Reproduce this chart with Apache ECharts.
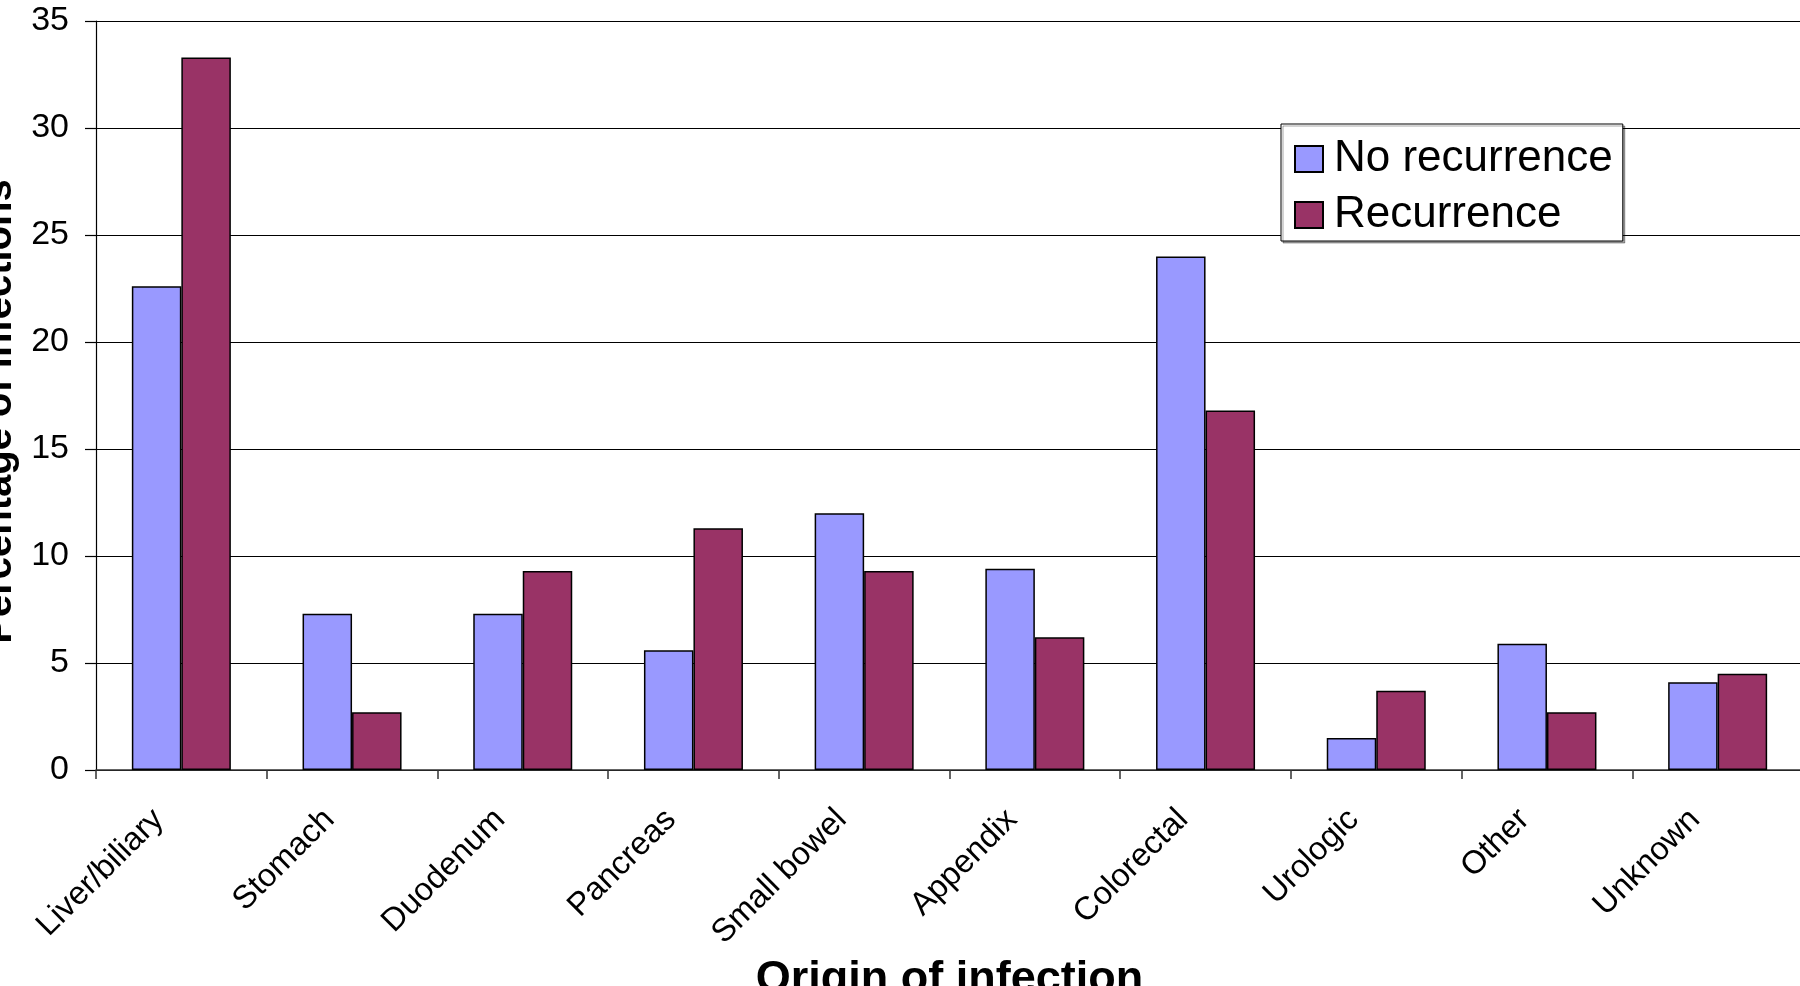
<!DOCTYPE html>
<html>
<head>
<meta charset="utf-8">
<title>Origin of infection</title>
<script src="https://cdn.jsdelivr.net/npm/echarts@6/dist/echarts.min.js"></script>
<style>
  html, body { margin: 0; padding: 0; background: #ffffff; }
  #chart { width: 1800px; height: 986px; }
</style>
</head>
<body>
<div id="chart"></div>
<script>
// Origin categories along the x axis
const categories = ['Liver/biliary', 'Stomach', 'Duodenum', 'Pancreas', 'Small bowel',
                    'Appendix', 'Colorectal', 'Urologic', 'Other', 'Unknown'];

// Percentage of infections per origin
const noRecurrence = [22.6, 7.3, 7.3, 5.6, 12.0, 9.4, 24.0, 1.5, 5.9, 4.1];
const recurrence   = [33.3, 2.7, 9.3, 11.3, 9.3, 6.2, 16.8, 3.7, 2.7, 4.5];

// Value axis ticks
const yTicks = [0, 5, 10, 15, 20, 25, 30, 35];

const seriesNames = ['No recurrence', 'Recurrence'];
const FONT = '"Liberation Sans", Arial, sans-serif';

const chart = echarts.init(document.getElementById('chart'), null, { renderer: 'canvas' });

chart.setOption({
  animation: false,
  backgroundColor: '#ffffff',
  textStyle: { fontFamily: FONT, color: '#000' },
  grid: {
    left: 96, top: 21, width: 1707, bottom: 216,
    containLabel: false,
    outerBoundsMode: 'none'
  },
  legend: {
    orient: 'vertical',
    left: 1281,
    top: 124,
    data: seriesNames,
    itemWidth: 28,
    itemHeight: 26,
    itemGap: 12,
    padding: [13, 10, 4, 13],
    backgroundColor: '#ffffff',
    borderColor: '#000000',
    borderWidth: 1,
    shadowColor: 'rgba(0,0,0,0.35)',
    shadowOffsetX: 2,
    shadowOffsetY: 2,
    icon: 'rect',
    textStyle: { fontFamily: FONT, fontSize: 44, color: '#000', padding: [0, 0, 0, 6] }
  },
  xAxis: {
    type: 'category',
    data: categories,
    name: 'Origin of infection',
    nameLocation: 'middle',
    nameGap: 164,
    nameTextStyle: { fontFamily: FONT, fontSize: 45, fontWeight: 'bold', color: '#000' },
    axisLine: { show: true, lineStyle: { color: '#333', width: 1.5 } },
    axisTick: { show: true, alignWithLabel: false, length: 9, lineStyle: { color: '#333', width: 1.5 } },
    axisLabel: {
      interval: 0,
      rotate: 45,
      margin: 22,
      padding: [0, 32, 0, 0],
      fontFamily: FONT,
      fontSize: 32.5,
      color: '#000'
    },
    splitLine: { show: false }
  },
  yAxis: {
    type: 'value',
    min: yTicks[0],
    max: yTicks[yTicks.length - 1],
    interval: yTicks[1] - yTicks[0],
    name: 'Percentage of infections',
    nameLocation: 'middle',
    nameGap: 70,
    nameTextStyle: {
      fontFamily: FONT, fontSize: 40, fontWeight: 'bold', color: '#000',
      padding: [0, 32, 0, 0]
    },
    axisLine: { show: true, lineStyle: { color: '#000', width: 1.2 } },
    axisTick: { show: true, length: 11, lineStyle: { color: '#000', width: 1.2 } },
    axisLabel: { margin: 27, fontFamily: FONT, fontSize: 34, color: '#000' },
    splitLine: { show: true, lineStyle: { color: '#000', width: 1.2 } }
  },
  series: [
    {
      name: seriesNames[0],
      type: 'bar',
      data: noRecurrence,
      barGap: '0%',
      barCategoryGap: '42%',
      itemStyle: { color: '#9999FF', borderColor: '#000', borderWidth: 1.5 }
    },
    {
      name: seriesNames[1],
      type: 'bar',
      data: recurrence,
      barGap: '0%',
      barCategoryGap: '42%',
      itemStyle: { color: '#993366', borderColor: '#000', borderWidth: 1.5 }
    }
  ]
});
</script>
</body>
</html>
